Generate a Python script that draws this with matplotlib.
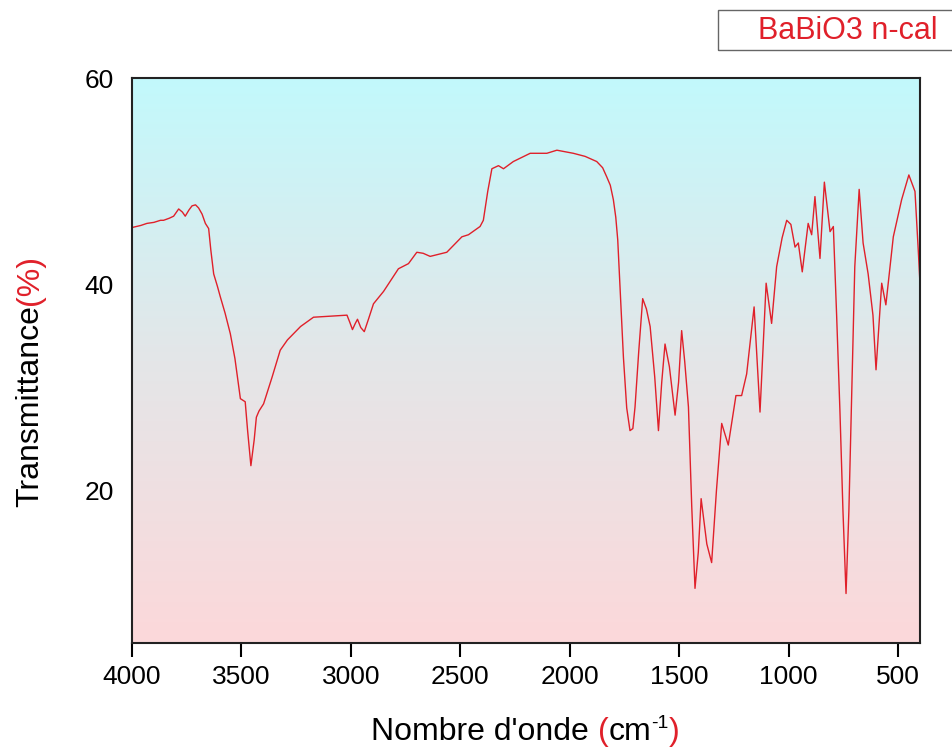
import numpy as np
import matplotlib
matplotlib.use("Agg")
import matplotlib.pyplot as plt
from matplotlib.patches import Rectangle
from matplotlib.colors import LinearSegmentedColormap

plt.rcParams['font.family'] = ['Liberation Sans', 'DejaVu Sans']

wavenumber = [4000, 3960, 3932, 3900, 3870, 3856, 3830, 3810, 3787, 3770, 3757, 3740, 3726,
              3710, 3696, 3680, 3665, 3650, 3640, 3627, 3610, 3597, 3575, 3551, 3530,
              3505, 3483, 3472, 3457, 3442, 3432, 3420, 3399, 3360, 3323, 3290, 3262,
              3230, 3171, 3094, 3018, 3005, 2993, 2980, 2970, 2955, 2939, 2920, 2897,
              2851, 2783, 2737, 2699, 2670, 2638, 2562, 2493, 2463, 2410, 2395, 2375,
              2356, 2326, 2303, 2258, 2181, 2105, 2059, 1984, 1930, 1877, 1850, 1831,
              1815, 1801, 1790, 1781, 1770, 1755, 1740, 1725, 1712, 1702, 1685, 1667,
              1650, 1633, 1612, 1595, 1580, 1565, 1545, 1519, 1503, 1489, 1475, 1458,
              1443, 1428, 1413, 1400, 1387, 1374, 1352, 1330, 1306, 1276, 1241, 1215,
              1192, 1158, 1131, 1103, 1078, 1055, 1030, 1009, 990, 971, 956, 938, 911,
              895, 880, 857, 837, 811, 796, 781, 766, 752, 738, 725, 712, 698, 678, 660,
              637, 615, 601, 575, 556, 522, 484, 451, 423, 408, 400]
transmittance = [45.5, 45.7, 45.9, 46.0, 46.2, 46.2, 46.4, 46.6, 47.3, 47.0, 46.6, 47.2, 47.6,
                 47.7, 47.4, 46.8, 45.9, 45.4, 43.3, 41.0, 39.8, 38.8, 37.2, 35.2, 32.8,
                 28.9, 28.6, 25.8, 22.4, 24.9, 27.1, 27.7, 28.4, 31.0, 33.6, 34.6, 35.2,
                 35.9, 36.8, 36.9, 37.0, 36.3, 35.6, 36.2, 36.6, 35.8, 35.4, 36.6, 38.1,
                 39.3, 41.5, 42.0, 43.1, 43.0, 42.7, 43.1, 44.6, 44.8, 45.6, 46.2, 49.0,
                 51.2, 51.5, 51.2, 51.9, 52.7, 52.7, 53.0, 52.7, 52.4, 51.9, 51.3, 50.4,
                 49.6, 48.2, 46.5, 44.3, 39.4, 32.9, 28.0, 25.8, 26.0, 28.1, 33.5, 38.6,
                 37.6, 35.9, 31.0, 25.8, 30.5, 34.2, 32.0, 27.3, 30.5, 35.5, 32.5, 28.1,
                 18.5, 10.5, 14.0, 19.2, 17.0, 14.8, 13.0, 20.0, 26.5, 24.4, 29.2, 29.2,
                 31.3, 37.8, 27.6, 40.1, 36.2, 41.7, 44.5, 46.2, 45.8, 43.6, 44.0, 41.2, 45.9,
                 44.8, 48.5, 42.5, 49.9, 45.1, 45.6, 37.0, 27.8, 18.0, 10.0, 18.0, 29.4, 41.7, 49.2, 44.0,
                 41.0, 37.0, 31.7, 40.1, 38.0, 44.6, 48.2, 50.6, 49.0, 43.3, 40.0]

legend_label = "BaBiO3 n-cal"
x_ticks = [4000, 3500, 3000, 2500, 2000, 1500, 1000, 500]
y_ticks = [20, 40, 60]

W, H = 952, 751
fig = plt.figure(figsize=(W / 100, H / 100), dpi=100)
ax = fig.add_axes([0.1387, 0.1438, 0.8277, 0.7523])

# gradient background
cmap = LinearSegmentedColormap.from_list("bg", ["#FCD8DA", "#E4E6E8", "#C2F9FC"])
grad = np.linspace(0, 1, 256).reshape(-1, 1)
ax.imshow(grad, aspect='auto', cmap=cmap, origin='lower',
          extent=[0, 1, 0, 1], transform=ax.transAxes, zorder=0)

ax.plot(wavenumber, transmittance, color='#E0202A', lw=1.0, zorder=2)

ax.set_xlim(4000, 400)
ax.set_ylim(5.2, 60)
ax.set_xticks(x_ticks)
ax.set_yticks(y_ticks)
ax.tick_params(axis='x', direction='out', length=10, width=1.5, labelsize=19, pad=6)
ax.tick_params(axis='y', length=0, labelsize=19, pad=13)
for s in ax.spines.values():
    s.set_linewidth(1.5)
    s.set_color('#222222')

r = fig.canvas.get_renderer()
red = '#E0202A'
fs = 23

# x label with red parentheses and superscript
xl_base = 1 - 740 / H
parts = [("Nombre d'onde ", 'black', fs, 0), ("(", red, fs, 0), ("cm", 'black', fs, 0),
         ("-1", 'black', 14, 12), (")", red, fs, 0)]
texts = []
for s, c, f, dy in parts:
    t = fig.text(0, xl_base + dy / H, s, color=c, fontsize=f, ha='left', va='baseline')
    texts.append(t)
widths = [t.get_window_extent(r).width for t in texts]
cx = 525.0
x0 = cx - sum(widths) / 2
for t, w in zip(texts, widths):
    t.set_x(x0 / W)
    x0 += w

# y label with red parentheses
yparts = [("Transmittance", 'black'), ("(%)", red)]
ytexts = []
for s, c in yparts:
    ytexts.append(fig.text(30 / W, 0, s, color=c, fontsize=fs, rotation=90,
                           ha='center', va='bottom'))
hs = [t.get_window_extent(r).height for t in ytexts]
cy = (H - 381)
y0 = cy - sum(hs) / 2
for t, h in zip(ytexts, hs):
    t.set_y(y0 / H)
    y0 += h

# legend box (partially off the right edge)
fig.patches.append(Rectangle((718 / W, 1 - 50 / H), 250 / W, 40 / H,
                             transform=fig.transFigure, fill=False,
                             edgecolor='#666666', lw=1.0))
fig.text(848 / W, 1 - 31 / H, legend_label, color=red, fontsize=22,
         ha='center', va='center')

fig.savefig("out.png", dpi=100)
